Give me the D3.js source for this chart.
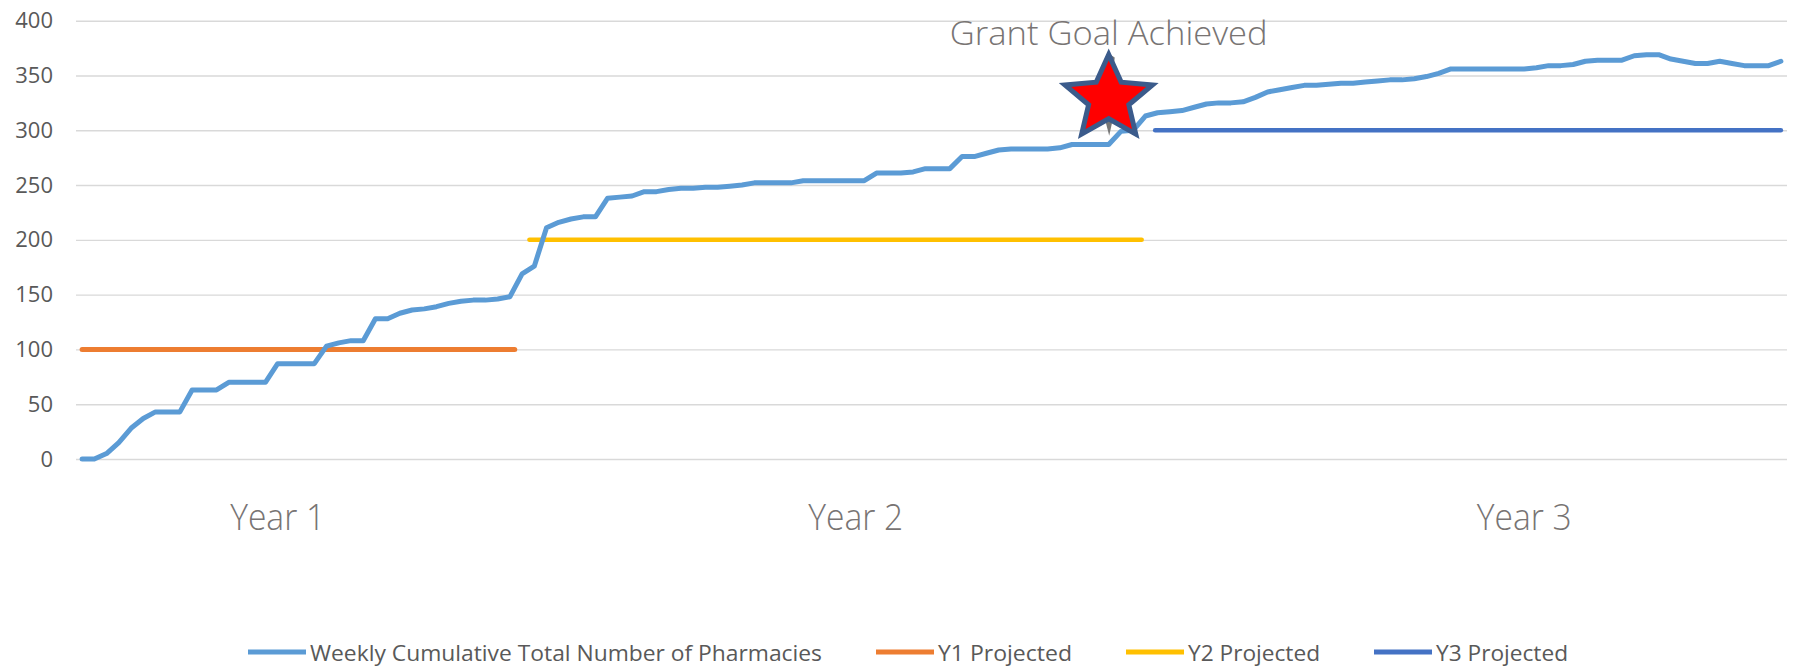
<!DOCTYPE html>
<html>
<head>
<meta charset="utf-8">
<script src="https://cdn.jsdelivr.net/npm/d3@7"></script>
<style>
  html, body { margin: 0; padding: 0; background: #fff; }
  svg { display: block; }
</style>
</head>
<body>
<div id="chart"></div>
<script>
// weekly cumulative number of pharmacies (one value per week)
const pharmacies = [
  0, 0, 5, 15, 28, 37, 43, 43, 43, 63,
  63, 63, 70, 70, 70, 70, 87, 87, 87, 87,
  103, 106, 108, 108, 128, 128, 133, 136, 137, 139,
  142, 144, 145, 145, 146, 148, 169, 176, 211, 216,
  219, 221, 221, 238, 239, 240, 244, 244, 246, 247,
  247, 248, 248, 249, 250, 252, 252, 252, 252, 254,
  254, 254, 254, 254, 254, 261, 261, 261, 262, 265,
  265, 265, 276, 276, 279, 282, 283, 283, 283, 283,
  284, 287, 287, 287, 287, 299, 300, 313, 316, 317,
  318, 321, 324, 325, 325, 326, 330, 335, 337, 339,
  341, 341, 342, 343, 343, 344, 345, 346, 346, 347,
  349, 352, 356, 356, 356, 356, 356, 356, 356, 357,
  359, 359, 360, 363, 364, 364, 364, 368, 369, 369,
  365, 363, 361, 361, 363, 361, 359, 359, 359, 363
];

const yTicks = [0, 50, 100, 150, 200, 250, 300, 350, 400];

// projected targets, each drawn over its own span of weeks
const projectedNames = ["Y1 Projected", "Y2 Projected", "Y3 Projected"];
const projectedValues = [100, 200, 300];
const projectedFrom = [0, 36.6, 87.8];
const projectedTo = [35.4, 86.7, 139];

const yearLabels = ["Year 1", "Year 2", "Year 3"];
const yearLabelWeeks = [16, 63.3, 118];

const goalText = "Grant Goal Achieved";
const goalWeek = 84;
const goalStarValue = 329;
const goalTipValue = 295;

const seriesName = "Weekly Cumulative Total Number of Pharmacies";

function createChart() {
    const width = 1801;
    const height = 667;
    const left = 76, right = 1787, top = 20.7, bottom = 459;

    const BLUE = "#5b9bd5";
    const ORANGE = "#ed7d31";
    const YELLOW = "#ffc000";
    const DARKBLUE = "#4472c4";
    const GRID = "#d9d9d9";
    const TEXT = "#595959";
    const NOTE = "#787473";
    const FONT = "'Open Sans', 'Liberation Sans', sans-serif";

    const svg = d3.select("#chart").append("svg")
        .attr("width", width)
        .attr("height", height)
        .style("background", "#fff");

    const x = d3.scaleLinear()
        .domain([-0.5, pharmacies.length - 0.5])
        .range([left, right]);
    const y = d3.scaleLinear()
        .domain([0, 400])
        .range([bottom, top]);

    // gridlines + tick labels
    const yAxis = svg.append("g")
        .attr("transform", `translate(${left},0)`)
        .call(d3.axisLeft(y).tickValues(yTicks).tickSize(-(right - left)).tickPadding(23));
    yAxis.select(".domain").remove();
    yAxis.selectAll(".tick line")
        .attr("stroke", GRID)
        .attr("stroke-width", 1.4);
    yAxis.selectAll(".tick text")
        .attr("fill", TEXT)
        .style("font-family", FONT)
        .style("font-size", "22px");

    // projected lines
    const projGroup = svg.append("g");
    const projColors = [ORANGE, YELLOW, DARKBLUE];
    const projWidths = [5, 4.5, 4.5];
    projectedValues.forEach((v, i) => {
        projGroup.append("path")
            .datum([[projectedFrom[i], v], [projectedTo[i], v]])
            .attr("fill", "none")
            .attr("stroke", projColors[i])
            .attr("stroke-width", projWidths[i])
            .attr("stroke-linecap", "round")
            .attr("d", d3.line().x(d => x(d[0])).y(d => y(d[1])));
    });

    // weekly cumulative line
    svg.append("path")
        .datum(pharmacies)
        .attr("fill", "none")
        .attr("stroke", BLUE)
        .attr("stroke-width", 5)
        .attr("stroke-linejoin", "round")
        .attr("stroke-linecap", "round")
        .attr("d", d3.line().x((d, i) => x(i)).y(d => y(d)));

    // year labels
    svg.append("g")
        .selectAll("text")
        .data(yearLabels)
        .enter()
        .append("text")
        .attr("x", (d, i) => x(yearLabelWeeks[i]))
        .attr("y", 530)
        .attr("text-anchor", "middle")
        .attr("textLength", 95)
        .attr("lengthAdjust", "spacingAndGlyphs")
        .attr("fill", NOTE)
        .style("font-family", FONT)
        .style("font-size", "37px")
        .style("font-weight", 300)
        .text(d => d);

    // goal annotation: callout pointer, star and text
    const gx = x(goalWeek);
    const gy = y(goalStarValue);
    const tipY = y(goalTipValue);
    const note = svg.append("g");
    note.append("polygon")
        .attr("points", [[gx - 6, gy + 12], [gx + 6, gy + 12], [gx + 0.5, tipY]].join(" "))
        .attr("fill", "#767676");
    note.append("polygon")
        .attr("points", [[gx, gy - 45], [gx + 6, gy - 41], [gx + 5, gy - 32], [gx + 2, gy - 32]].join(" "))
        .attr("fill", "#767676");

    const rx = 46, ry = 44, inner = 0.46;
    const starPts = d3.range(10).map(k => {
        const a = -Math.PI / 2 + k * Math.PI / 5;
        const r = k % 2 === 0 ? 1 : inner;
        return [gx + Math.cos(a) * rx * r, gy + Math.sin(a) * ry * r];
    });
    note.append("polygon")
        .attr("points", starPts.map(p => p.join(",")).join(" "))
        .attr("fill", "#ff0000")
        .attr("stroke", "#3b5b8b")
        .attr("stroke-width", 5)
        .attr("stroke-linejoin", "miter");

    note.append("text")
        .attr("x", gx)
        .attr("y", 45)
        .attr("text-anchor", "middle")
        .attr("textLength", 318)
        .attr("lengthAdjust", "spacingAndGlyphs")
        .attr("fill", NOTE)
        .style("font-family", FONT)
        .style("font-size", "33px")
        .style("font-weight", 300)
        .text(goalText);

    // legend
    const legendItems = [
        { name: seriesName, color: BLUE, w: 512 },
        { name: projectedNames[0], color: ORANGE, w: 134 },
        { name: projectedNames[1], color: YELLOW, w: 132 },
        { name: projectedNames[2], color: DARKBLUE, w: 132 }
    ];
    const legend = svg.append("g").attr("transform", "translate(248,652)");
    let lx = 0;
    legendItems.forEach(item => {
        legend.append("line")
            .attr("x1", lx).attr("x2", lx + 58)
            .attr("y1", 0).attr("y2", 0)
            .attr("stroke", item.color)
            .attr("stroke-width", 5);
        legend.append("text")
            .attr("x", lx + 62)
            .attr("y", 8.5)
            .attr("textLength", item.w)
            .attr("lengthAdjust", "spacingAndGlyphs")
            .attr("fill", TEXT)
            .style("font-family", FONT)
            .style("font-size", "22px")
            .text(item.name);
        lx += 62 + item.w + 54;
    });
}

createChart();
</script>
</body>
</html>
